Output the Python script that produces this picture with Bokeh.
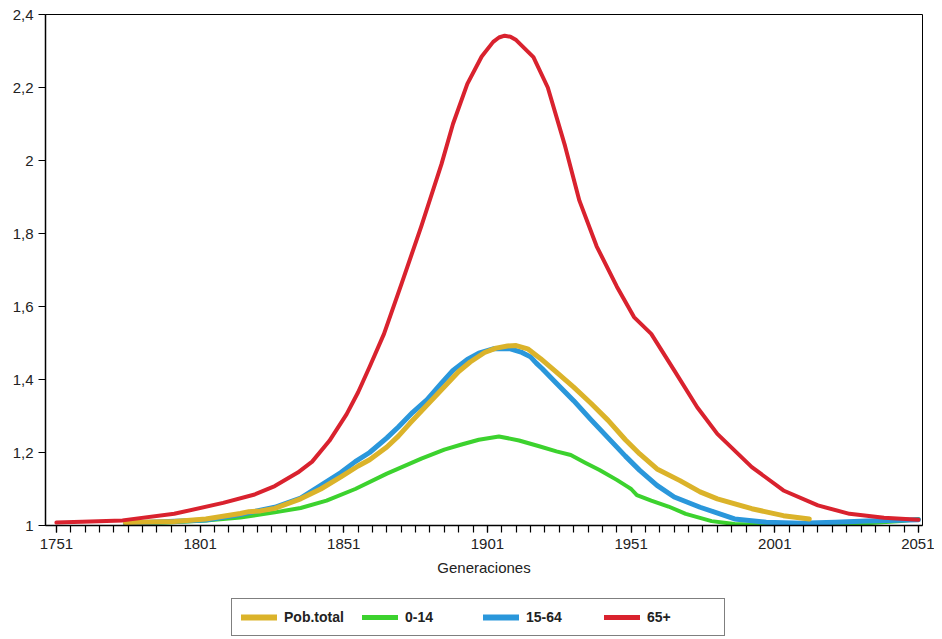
from bokeh.plotting import figure
from bokeh.layouts import column
from bokeh.models import Range1d, FixedTicker, Legend
from bokeh.embed import file_html
from bokeh.resources import INLINE

# ---- data ----
total_years = [1775, 1792, 1803, 1815, 1818, 1822, 1827, 1836, 1843, 1850, 1856, 1860, 1866,
               1870, 1874, 1880, 1886, 1891, 1895, 1900, 1904, 1908, 1911, 1915, 1919.5,
               1925, 1931, 1937, 1943, 1949, 1954, 1960, 1968, 1975, 1981, 1993, 2004, 2013]
total_vals = [1.008, 1.011, 1.018, 1.033, 1.038, 1.040, 1.047, 1.073, 1.100, 1.133, 1.163,
              1.180, 1.215, 1.245, 1.280, 1.330, 1.380, 1.422, 1.448, 1.474, 1.486, 1.492,
              1.493, 1.484, 1.457, 1.420, 1.379, 1.335, 1.288, 1.235, 1.196, 1.155, 1.123,
              1.092, 1.073, 1.046, 1.027, 1.018]

young_years = [1775, 1790, 1803, 1815, 1827, 1836, 1845, 1855, 1866, 1878, 1886, 1892, 1898,
               1905, 1912, 1919, 1925, 1930, 1935, 1940, 1946, 1950, 1951, 1953, 1958, 1964,
               1970, 1979, 1987, 2000, 2010, 2022, 2033, 2045, 2051]
young_vals = [1.005, 1.008, 1.014, 1.022, 1.036, 1.048, 1.068, 1.100, 1.142, 1.183, 1.208,
              1.222, 1.235, 1.244, 1.233, 1.217, 1.203, 1.193, 1.172, 1.152, 1.125, 1.105,
              1.100, 1.083, 1.068, 1.052, 1.032, 1.012, 1.004, 1.001, 1.000, 1.003, 1.006,
              1.012, 1.018]

adult_years = [1775, 1803, 1815, 1827, 1836, 1843, 1850, 1855, 1860, 1866, 1870, 1875, 1880,
               1885, 1889, 1894, 1898, 1903, 1909, 1913, 1916, 1918, 1920, 1925, 1931, 1937,
               1943, 1949, 1954, 1960, 1966, 1975, 1987, 1998, 2010, 2022, 2033, 2051]
adult_vals = [1.006, 1.015, 1.030, 1.050, 1.075, 1.110, 1.145, 1.175, 1.200, 1.240, 1.270,
              1.310, 1.345, 1.390, 1.425, 1.455, 1.472, 1.484, 1.484, 1.474, 1.462, 1.445,
              1.430, 1.390, 1.342, 1.290, 1.240, 1.190, 1.151, 1.110, 1.078, 1.050, 1.018,
              1.009, 1.006, 1.009, 1.012, 1.016]

old_years = [1751, 1760, 1774, 1792, 1809, 1820, 1827, 1835, 1840, 1846, 1852, 1856, 1860,
             1865, 1871, 1878, 1885, 1889, 1894, 1899, 1903, 1905, 1907, 1909, 1911, 1917,
             1922, 1928, 1933, 1939, 1946, 1952, 1958, 1966, 1974, 1981, 1993, 2004, 2016,
             2027, 2039, 2051]
old_vals = [1.008, 1.010, 1.014, 1.032, 1.062, 1.085, 1.108, 1.145, 1.175, 1.232, 1.305,
            1.365, 1.435, 1.525, 1.660, 1.820, 1.990, 2.100, 2.210, 2.285, 2.325, 2.337,
            2.342, 2.339, 2.330, 2.283, 2.200, 2.040, 1.890, 1.765, 1.655, 1.571, 1.525,
            1.425, 1.324, 1.251, 1.160, 1.096, 1.055, 1.032, 1.021, 1.016]

x_major = [1751, 1801, 1851, 1901, 1951, 2001, 2051]
x_minor = list(range(1751, 2052, 5))
y_ticks = [1.0, 1.2, 1.4, 1.6, 1.8, 2.0, 2.2, 2.4]
y_labels = ["1", "1,2", "1,4", "1,6", "1,8", "2", "2,2", "2,4"]
series_names = ["Pob.total", "0-14", "15-64", "65+"]
series_colors = ["#dbb32a", "#3cd22e", "#2a97db", "#d9222e"]
series_widths = [5, 4, 5, 4]

FONT = "Liberation Sans"
TXT = "#222222"

p = figure(width=934, height=580, output_backend="svg", toolbar_location=None,
           x_range=Range1d(1747.2, 2052.4), y_range=Range1d(1, 2.4),
           min_border_left=45, min_border_right=12, min_border_top=14, min_border_bottom=55,
           background_fill_color="white", border_fill_color="white")
p.grid.visible = False
p.outline_line_color = "black"
p.outline_line_width = 1

xa = p.xaxis[0]
xa.ticker = FixedTicker(ticks=x_major, minor_ticks=x_minor)
xa.axis_label = "Generaciones"
xa.axis_label_text_font = FONT
xa.axis_label_text_font_size = "15px"
xa.axis_label_text_font_style = "normal"
xa.axis_label_text_color = TXT
xa.axis_label_standoff = 7
xa.major_label_text_font = FONT
xa.major_label_text_font_size = "15px"
xa.major_label_text_color = TXT
xa.major_label_standoff = 6
xa.major_tick_in = 0
xa.major_tick_out = 7
xa.minor_tick_in = 0
xa.minor_tick_out = 7
xa.axis_line_width = 1.5
xa.major_tick_line_width = 1.2
xa.minor_tick_line_width = 1.2

ya = p.yaxis[0]
ya.ticker = FixedTicker(ticks=y_ticks, minor_ticks=[])
ya.major_label_overrides = {t: l for t, l in zip(y_ticks, y_labels)}
ya.major_label_text_font = FONT
ya.major_label_text_font_size = "15px"
ya.major_label_text_color = TXT
ya.major_label_standoff = 5
ya.major_tick_in = 0
ya.major_tick_out = 7
ya.minor_tick_line_color = None
ya.axis_line_width = 1.5
ya.major_tick_line_width = 1.2

data = {"Pob.total": (total_years, total_vals), "0-14": (young_years, young_vals),
        "15-64": (adult_years, adult_vals), "65+": (old_years, old_vals)}
draw_order = ["0-14", "15-64", "Pob.total", "65+"]
for name in draw_order:
    i = series_names.index(name)
    xs, ys = data[name]
    p.line(xs, ys, line_color=series_colors[i], line_width=series_widths[i],
           line_join="round", line_cap="round")

# ---- legend strip below the chart (same series, drawn outside its view) ----
lg = figure(width=934, height=59, output_backend="svg", toolbar_location=None,
            x_range=Range1d(0, 1), y_range=Range1d(0, 1),
            x_axis_location=None, y_axis_location=None, min_border=0,
            min_border_left=0, min_border_right=0, min_border_top=0, min_border_bottom=0,
            background_fill_color="white", border_fill_color="white")
lg.grid.visible = False
lg.outline_line_color = None
items = []
for name, col, w in zip(series_names, series_colors, series_widths):
    xs, ys = data[name]
    r = lg.line(xs, ys, line_color=col, line_width=w + 1, line_cap="round")
    items.append((name, [r]))

legend = Legend(items=items, orientation="horizontal", location=(186, 3),
                border_line_color="black", border_line_width=1,
                background_fill_color="white", background_fill_alpha=1,
                glyph_width=36, glyph_height=18, label_standoff=7, label_width=68,
                spacing=10, padding=9, margin=0,
                label_text_font=FONT, label_text_font_size="14px",
                label_text_font_style="bold", label_text_color=TXT)
lg.add_layout(legend, "center")

layout = column(p, lg, spacing=0)
open("out.html", "w").write(file_html(layout, INLINE))
